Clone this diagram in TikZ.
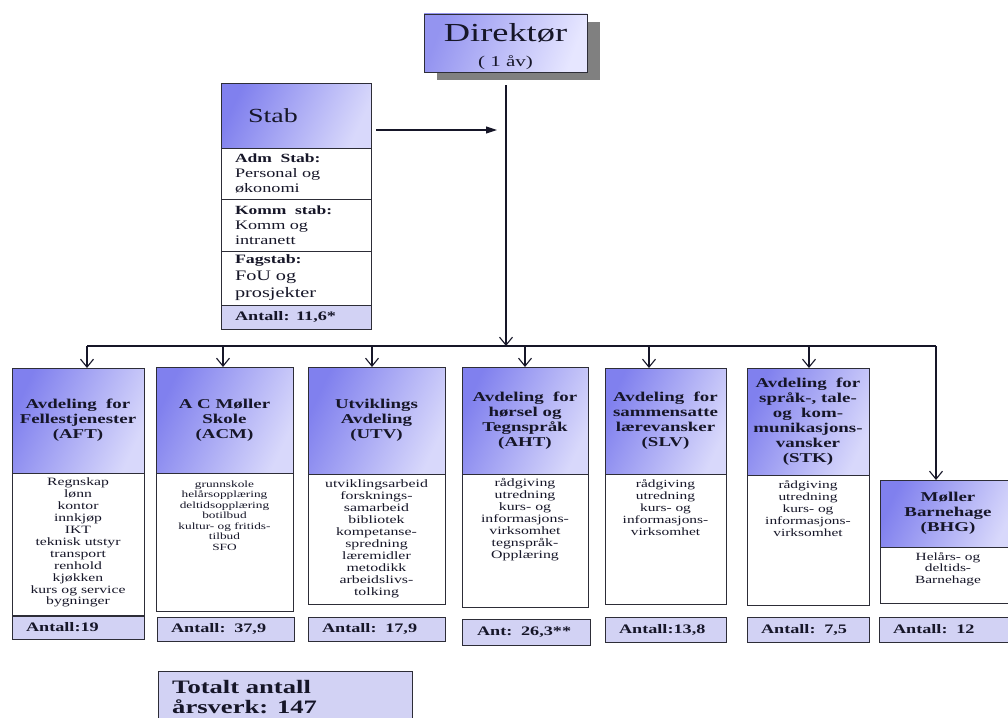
\documentclass[tikz,border=0pt]{standalone}
\usepackage{fontspec}
\setmainfont{Liberation Serif}[FakeStretch=1.4]
\usetikzlibrary{arrows.meta,shadows,calc}

\definecolor{hdark}{RGB}{128,128,238}
\definecolor{hlight}{RGB}{216,216,251}
\definecolor{ddark}{RGB}{148,148,240}
\definecolor{dlight}{RGB}{230,230,255}
\definecolor{antfill}{RGB}{210,210,244}
\definecolor{ink}{RGB}{22,22,40}
\definecolor{edge}{RGB}{45,45,55}
\definecolor{shadowgray}{RGB}{128,128,128}

\newcommand{\fs}[2]{\fontsize{#1}{#2}\selectfont}

\tikzset{
  box/.style={draw=edge, line width=0.9pt, inner sep=0pt, outer sep=0pt,
    text=ink, anchor=north west},
  headbox/.style={box, top color=hdark, bottom color=hlight, shading angle=65,
    align=center, font=\bfseries\fs{13.5}{15}},
  bodybox/.style={box, fill=white},
  bodytext/.style={anchor=north, inner sep=0pt, align=center, text=ink, yshift=-5pt},
  antbox/.style={box, fill=antfill, align=left, inner xsep=14pt,
    font=\bfseries\fs{13}{15}},
  stabsec/.style={box, fill=white, align=left, inner xsep=14pt,
    text width=122pt, font=\fs{13}{15}},
  link/.style={draw=ink, line width=1.1pt},
  downarrow/.style={link, -{Straight Barb[length=8pt,width=13pt,line width=1.1pt]}},
  sidearrow/.style={link, -{Triangle[length=11pt,width=7pt]}}
}

\begin{document}
\begin{tikzpicture}[x=1pt,y=-1pt]
\clip (0,0) rectangle (1008,717);
\fill[white] (0,0) rectangle (1008,717);

% Director
\node[box, top color=ddark, bottom color=dlight, shading angle=70,
  minimum width=163pt, minimum height=58pt, align=center, font=\fs{26}{25},
  drop shadow={shadow xshift=13pt, shadow yshift=-8pt, fill=shadowgray, opacity=1}]
  (dir) at (424,14) {\rule{0pt}{26pt}Direktør\\{\fs{15}{16}( 1 åv)}};

% Staff unit
\node[box, top color=hdark, bottom color=hlight, shading angle=65,
  minimum height=65pt, text width=96pt, inner xsep=27pt, align=left,
  font=\fs{20}{22}] (stabh) at (221,83) {\raisebox{-3pt}{Stab}};
\node[stabsec, minimum height=51pt] (adm) at (221,148)
  {\textbf{\fs{12.5}{15}Adm\ \ Stab:}\\Personal og\\økonomi};
\node[stabsec, minimum height=52pt] (komm) at (221,199)
  {\textbf{\fs{12.5}{15}Komm\ \ stab:}\\Komm og\\intranett};
\node[stabsec, minimum height=54pt, font=\fs{14.5}{17}] (fag) at (221,251)
  {\textbf{\fs{12.8}{17}Fagstab:}\\FoU og\\prosjekter};
\node[antbox, minimum height=24pt, text width=122pt] (stabant) at (221,305)
  {Antall: 11,6*};

% Main lines
\coordinate (stabtip) at (497,130);
\draw[sidearrow] ($(stabh.east |- stabtip)+(5,0)$) -- (stabtip);
\coordinate (busdir) at (506,346);
\coordinate (busL) at (87,346);
\coordinate (busR) at (936,346);
\draw[downarrow] ($(dir.south)+(0.5,13)$) -- (busdir);
\draw[link] (busL) -- (busR);

% Departments: header, body, body text, count
% AFT
\node[headbox, minimum width=132pt, minimum height=105pt] (h1) at (12,368)
  {Avdeling\ \ for\\Fellestjenester\\(AFT)};
\node[bodybox, minimum width=132pt, minimum height=142pt] (b1) at (12,473) {};
\node[bodytext, font=\fs{11.2}{11.9}] (t1) at (b1.north)
  {Regnskap\\lønn\\kontor\\innkjøp\\IKT\\teknisk utstyr\\transport\\renhold\\kjøkken\\kurs og service\\bygninger};
\node[antbox, minimum height=23pt, text width=104pt] (n1) at (12,616) {Antall:19};

% ACM
\node[headbox, minimum width=137pt, minimum height=106pt] (h2) at (156,367)
  {A C Møller\\Skole\\(ACM)};
\node[bodybox, minimum width=137pt, minimum height=138pt] (b2) at (156,473) {};
\node[bodytext, font=\fs{9.5}{10.5}, yshift=-2.5pt] (t2) at (b2.north)
  {grunnskole\\helårsopplæring\\deltidsopplæring\\botilbud\\kultur- og fritids-\\tilbud\\SFO};
\node[antbox, minimum height=24pt, text width=109pt] (n2) at (157,617) {Antall:\ \ 37,9};

% UTV
\node[headbox, minimum width=137pt, minimum height=107pt] (h3) at (308,367)
  {Utviklings\\Avdeling\\(UTV)};
\node[bodybox, minimum width=137pt, minimum height=130pt] (b3) at (308,474) {};
\node[bodytext, font=\fs{11.3}{12}] (t3) at (b3.north)
  {utviklingsarbeid\\forsknings-\\samarbeid\\bibliotek\\kompetanse-\\spredning\\læremidler\\metodikk\\arbeidslivs-\\tolking};
\node[antbox, minimum height=24pt, text width=109pt] (n3) at (308,617) {Antall:\ \ 17,9};

% AHT
\node[headbox, minimum width=126pt, minimum height=107pt] (h4) at (462,367)
  {Avdeling\ \ for\\hørsel og\\Tegnspråk\\(AHT)};
\node[bodybox, minimum width=126pt, minimum height=133pt] (b4) at (462,474) {};
\node[bodytext, font=\fs{11.3}{12}, yshift=1pt] (t4) at (b4.north)
  {rådgiving\\utredning\\kurs- og\\informasjons-\\virksomhet\\tegnspråk-\\Opplæring};
\node[antbox, minimum height=26pt, text width=98pt, inner xsep=15pt] (n4) at (462,619) {Ant:\ \ 26,3**};

% SLV
\node[headbox, minimum width=121pt, minimum height=106pt] (h5) at (605,368)
  {Avdeling\ \ for\\sammensatte\\lærevansker\\(SLV)};
\node[bodybox, minimum width=121pt, minimum height=130pt] (b5) at (605,474) {};
\node[bodytext, font=\fs{11}{12}] (t5) at (b5.north)
  {rådgiving\\utredning\\kurs- og\\informasjons-\\virksomhet};
\node[antbox, minimum height=25pt, text width=93pt] (n5) at (605,617) {Antall:13,8};

% STK
\node[headbox, minimum width=122pt, minimum height=107pt] (h6) at (747,368)
  {Avdeling\ \ for\\språk-, tale-\\og\ \ kom-\\munikasjons-\\vansker\\(STK)};
\node[bodybox, minimum width=122pt, minimum height=130pt] (b6) at (747,475) {};
\node[bodytext, font=\fs{11}{12}] (t6) at (b6.north)
  {rådgiving\\utredning\\kurs- og\\informasjons-\\virksomhet};
\node[antbox, minimum height=25pt, text width=94pt] (n6) at (747,617) {Antall:\ \ 7,5};

% BHG
\node[headbox, minimum width=136pt, minimum height=67pt] (h7) at (880,480)
  {Møller\\Barnehage\\(BHG)};
\node[bodybox, minimum width=136pt, minimum height=56pt] (b7) at (880,547) {};
\node[bodytext, font=\fs{11}{11.7}] (t7) at (b7.north)
  {Helårs- og\\deltids-\\Barnehage};
\node[antbox, minimum height=25pt, text width=108pt] (n7) at (879,617) {Antall:\ \ 12};

% Arrows from the bus to each department
\coordinate (a1) at (87,346);
\coordinate (a2) at (223,346);
\coordinate (a3) at (372,346);
\coordinate (a4) at (525,346);
\coordinate (a5) at (649,346);
\coordinate (a6) at (809,346);
\foreach \i in {1,...,6} {
  \draw[downarrow] (a\i) -- (a\i |- h\i.north);
}
\draw[downarrow] (busR) -- (busR |- h7.north);

% Total
\node[box, fill=antfill, minimum width=254pt, minimum height=60pt] (tot) at (158,671) {};
\node[anchor=north west, inner sep=0pt, align=left, text=ink,
  font=\bfseries\fs{19}{20}] (totxt) at ($(tot.north west)+(14,9)$)
  {Totalt antall\\årsverk: 147};
\end{tikzpicture}
\end{document}
